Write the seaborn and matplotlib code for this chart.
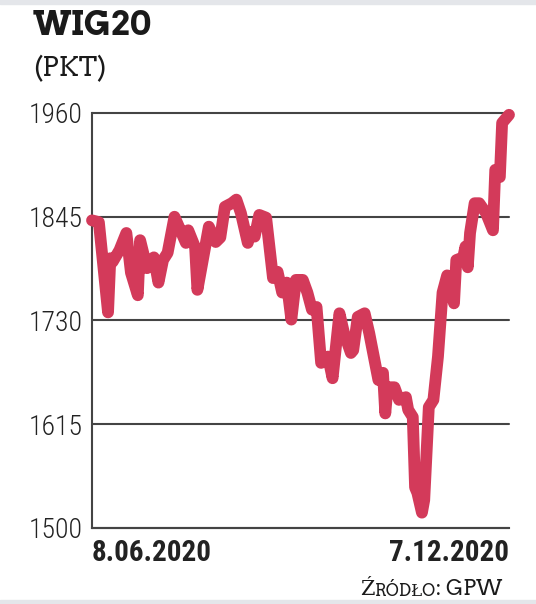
import matplotlib.pyplot as plt
import matplotlib.patches as mpatches
import pandas as pd
import seaborn as sns

# WIG20 closing levels, days counted from 8.06.2020
days = [0, 3, 7, 8, 9, 12, 15, 17, 20, 21, 24, 27, 29, 31, 33, 36, 41, 42, 45, 46,
        51, 54, 56, 58, 61, 63, 65, 68, 69, 71, 73, 76, 79, 81, 83, 85, 87, 89, 92, 94,
        96, 98, 100, 103, 105, 108, 110, 113, 114, 116, 119, 121, 125, 127, 128, 129,
        132, 134, 137, 138, 140, 141, 142, 144, 145, 147, 149, 151, 153, 155, 158, 159,
        162, 163, 164, 165, 167, 169, 172, 175, 176, 178, 179, 182]
wig20 = [1841, 1839, 1739, 1799, 1795, 1808, 1827, 1783, 1758, 1819, 1788, 1800, 1772,
         1797, 1805, 1845, 1816, 1830, 1811, 1764, 1834, 1817, 1822, 1856, 1860, 1864,
         1849, 1816, 1828, 1823, 1847, 1844, 1777, 1784, 1761, 1772, 1731, 1775, 1775,
         1761, 1742, 1745, 1683, 1690, 1666, 1738, 1716, 1694, 1697, 1734, 1738, 1716,
         1664, 1672, 1627, 1656, 1656, 1642, 1645, 1631, 1623, 1545, 1539, 1517, 1531,
         1634, 1642, 1690, 1761, 1780, 1749, 1797, 1800, 1812, 1789, 1827, 1860, 1860,
         1849, 1830, 1897, 1889, 1949, 1958]
y_ticks = [1500, 1615, 1730, 1845, 1960]
x_labels = ["8.06.2020", "7.12.2020"]

start = pd.Timestamp("2020-06-08")
df = pd.DataFrame({"date": start + pd.to_timedelta(days, unit="D"), "wig20": wig20})

sns.set_style("white")
narrow = ["Roboto Condensed", "DejaVu Sans"]
slab = ["Arvo", "DejaVu Serif"]
W, H = 536, 604

fig = plt.figure(figsize=(W / 100, H / 100), dpi=100)
ax = fig.add_axes([92 / W, 1 - 528 / H, (509 - 92) / W, (528 - 113) / H])

sns.lineplot(data=df, x="date", y="wig20", ax=ax, color="#d33a5a", lw=8.5,
             solid_capstyle="round", solid_joinstyle="round", clip_on=False, zorder=3)

ax.set_xlim(df["date"].iloc[0], df["date"].iloc[-1])
ax.set_ylim(y_ticks[0], y_ticks[-1])
ax.set_xlabel("")
ax.set_ylabel("")

# horizontal rules
ax.set_yticks(y_ticks)
ax.set_yticklabels([str(v) for v in y_ticks], family=narrow, fontsize=20,
                   fontweight="light", color="#222222")
ax.yaxis.grid(True, color="#444444", lw=1.5)
for gl in ax.get_ygridlines():
    gl.set_clip_on(False)
ax.tick_params(axis="y", length=0, pad=7)

ax.set_xticks([df["date"].iloc[0], df["date"].iloc[-1]])
ax.set_xticklabels(x_labels, family=narrow, fontsize=21, fontweight="bold", color="#222222")
xt = ax.get_xticklabels()
xt[0].set_ha("left")
xt[1].set_ha("right")
ax.tick_params(axis="x", length=0, pad=8)

for side in ["top", "right"]:
    ax.spines[side].set_visible(False)
for side in ["left", "bottom"]:
    ax.spines[side].set_color("#444444")
    ax.spines[side].set_linewidth(1.5)

# title
fig.text(33 / W, 1 - 35 / H, "WIG20", family=slab, fontweight="bold", fontsize=24,
         va="baseline", color="#1a1a1a")
fig.text(33 / W, 1 - 76 / H, "(PKT)", family=slab, fontsize=19, va="baseline",
         color="#1a1a1a")

# source line in small caps
t1 = fig.text(360 / W, 1 - 600 / H, "Ź", family=slab, fontsize=15, va="bottom", color="#1a1a1a")
t2 = ax.annotate("RÓDŁO", xy=(1, 0), xycoords=t1, va="bottom", ha="left",
                 family=slab, fontsize=12, color="#1a1a1a", annotation_clip=False)
ax.annotate(": GPW", xy=(1, 0), xycoords=t2, va="bottom", ha="left",
            family=slab, fontsize=15, color="#1a1a1a", annotation_clip=False)

# light frame bands at top and bottom edge
fig.patches.append(mpatches.Rectangle((0, 1 - 4 / H), 1, 4 / H, transform=fig.transFigure,
                                      color="#e4e6ea", zorder=0))
fig.patches.append(mpatches.Rectangle((0, 0), 1, 4 / H, transform=fig.transFigure,
                                      color="#e4e6ea", zorder=0))

fig.savefig("out.png", dpi=100)
